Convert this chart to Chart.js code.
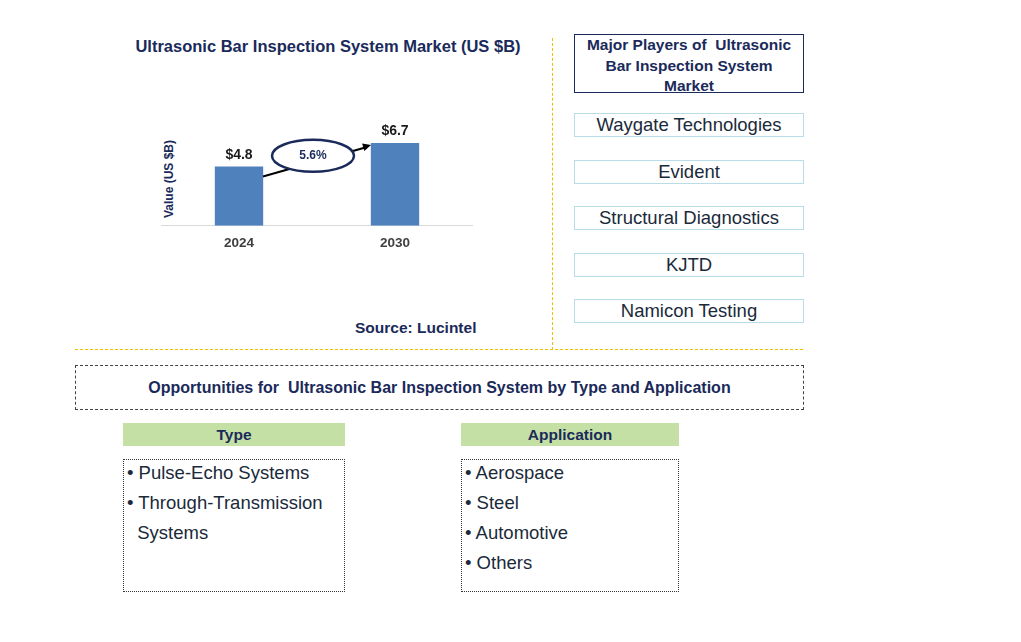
<!DOCTYPE html>
<html><head><meta charset="utf-8">
<script src="https://cdn.jsdelivr.net/npm/chart.js@4"></script>
<style>
body{margin:0;width:1021px;height:642px;background:#fff;font-family:Arial,"Liberation Sans",sans-serif;position:relative;overflow:hidden}
.a{position:absolute}
.title{left:78px;top:37px;width:500px;text-align:center;font-weight:bold;font-size:16.5px;color:#1a2a5a}
.ytitle{left:104px;top:172px;width:130px;text-align:center;transform:rotate(-90deg);font-weight:bold;font-size:12px;color:#1a2a5a}
.src{left:355px;top:319px;font-weight:bold;font-size:15.5px;color:#1a2a5a}
.vline{left:552px;top:38px;height:312px;border-left:1px dashed #f0c000}
.hline{left:75px;top:349px;width:728px;border-top:1px dashed #f0c000}
.mp{left:574px;top:34px;width:230px;height:59px;border:1px solid #1a2a5a;text-align:center;font-weight:bold;font-size:15.5px;color:#1a2a5a;line-height:20.5px;padding:0 6px;box-sizing:border-box}
.pl{left:574px;width:228px;height:22px;border:1px solid #b8dde8;text-align:center;font-size:18.5px;color:#1a2a3a;line-height:22px}
.opp{left:75px;top:365px;width:727px;height:43px;border:1px dashed #444;text-align:center;font-weight:bold;font-size:16px;color:#1a2a5a;line-height:43px}
.hd{width:222px;height:23px;background:#c5e0a5;text-align:center;font-weight:bold;font-size:15.5px;color:#1a2a5a;line-height:23px}
.lst{height:133px;border:1px dotted #333;font-size:18.5px;color:#1a2a3a;line-height:30px;padding-left:3px;box-sizing:border-box}
</style></head><body>
<div class="a title">Ultrasonic Bar Inspection System Market (US $B)</div>
<div class="a ytitle">Value (US $B)</div>
<canvas id="c" class="a" style="left:161px;top:100px;width:312px;height:160px"></canvas>
<div class="a src">Source: Lucintel</div>
<div class="a vline"></div><div class="a hline"></div>
<div class="a mp">Major Players of &nbsp;Ultrasonic Bar Inspection System Market</div>
<div id="players"></div>
<div class="a opp">Opportunities for &nbsp;Ultrasonic Bar Inspection System by Type and Application</div>
<div class="a hd" style="left:123px;top:423px">Type</div>
<div class="a hd" style="left:461px;top:423px;width:218px">Application</div>
<div class="a lst" style="left:123px;top:459px;width:222px"><div style="margin-top:-2px">• Pulse-Echo Systems<br>• Through-Transmission<br>&nbsp;&nbsp;Systems</div></div>
<div class="a lst" style="left:461px;top:459px;width:218px"><div style="margin-top:-2px">• Aerospace<br>• Steel<br>• Automotive<br>• Others</div></div>
<script>
const years = ['2024', '2030'];
const values = [4.8, 6.7];
const valueLabels = ['$4.8', '$6.7'];
const cagr = '5.6%';
const players = ['Waygate Technologies', 'Evident', 'Structural Diagnostics', 'KJTD', 'Namicon Testing'];

const pdiv = document.getElementById('players');
players.forEach((p, i) => {
    const d = document.createElement('div');
    d.className = 'a pl';
    d.style.top = (113 + i * 46.5) + 'px';
    d.textContent = p;
    pdiv.appendChild(d);
});

const extras = {
    id: 'extras',
    afterDatasetsDraw(chart) {
        const ctx = chart.ctx;
        const meta = chart.getDatasetMeta(0);
        ctx.save();
        ctx.fillStyle = '#1a1a1a';
        ctx.font = 'bold 14px Arial';
        ctx.textAlign = 'center';
        meta.data.forEach((b, i) => ctx.fillText(valueLabels[i], b.x, b.y - 8));
        const b0 = meta.data[0], b1 = meta.data[1];
        const x0 = b0.x + 24, y0 = b0.y + 10, x1 = b1.x - 24, y1 = b1.y + 2;
        ctx.strokeStyle = '#000'; ctx.lineWidth = 2;
        ctx.beginPath(); ctx.moveTo(x0, y0); ctx.lineTo(x1 - 4, y1 + 2); ctx.stroke();
        const ang = Math.atan2(y1 - y0, x1 - x0);
        ctx.fillStyle = '#000';
        ctx.beginPath(); ctx.moveTo(x1, y1);
        ctx.lineTo(x1 - 9 * Math.cos(ang - 0.45), y1 - 9 * Math.sin(ang - 0.45));
        ctx.lineTo(x1 - 9 * Math.cos(ang + 0.45), y1 - 9 * Math.sin(ang + 0.45));
        ctx.fill();
        const cx = (b0.x + b1.x) / 2 - 4, cy = (b0.y + b1.y) / 2 + 1;
        ctx.fillStyle = '#fff'; ctx.strokeStyle = '#1a2a5a'; ctx.lineWidth = 2.5;
        ctx.beginPath(); ctx.ellipse(cx, cy, 41, 16, 0, 0, Math.PI * 2); ctx.fill(); ctx.stroke();
        ctx.fillStyle = '#1a2a5a'; ctx.font = 'bold 12px Arial'; ctx.textBaseline = 'middle';
        ctx.fillText(cagr, cx, cy);
        ctx.restore();
    }
};

new Chart(document.getElementById('c'), {
    type: 'bar',
    data: { labels: years, datasets: [{ data: values, backgroundColor: '#4f81bd', barPercentage: 0.62, categoryPercentage: 0.5 }] },
    options: {
        responsive: false, animation: false,
        layout: { padding: { top: 27, left: 0, right: 0, bottom: 0 } },
        plugins: { legend: { display: false }, tooltip: { enabled: false } },
        scales: {
            y: { display: false, min: 0, max: 8 },
            x: { grid: { display: false, drawTicks: false }, border: { color: '#d9d9d9' },
                 ticks: { color: '#404040', font: { weight: 'bold', size: 13.5, family: 'Arial' }, padding: 9 } }
        }
    },
    plugins: [extras]
});
</script>
</body></html>
